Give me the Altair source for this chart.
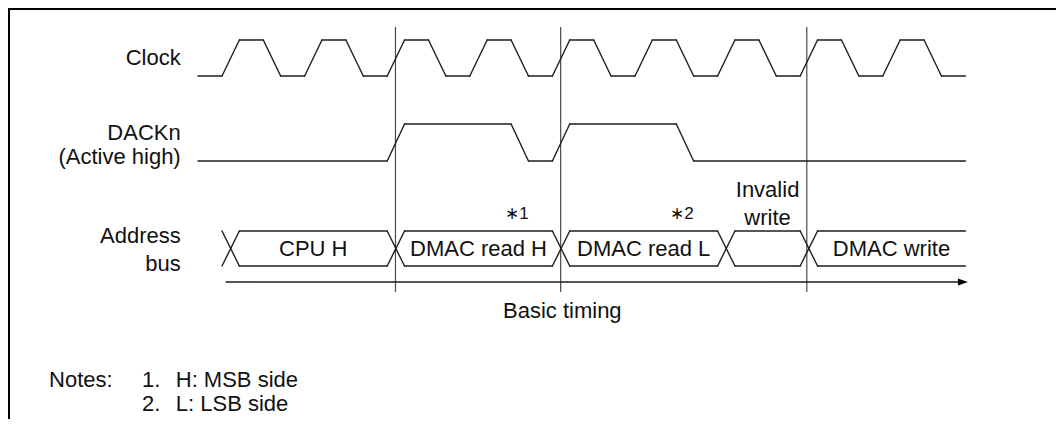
import altair as alt
import pandas as pd

# ---------------- data (times in clock periods) ----------------
clock_rise = [0, 1, 2, 3, 4, 5, 6, 7, 8]
clock_fall = [0.5, 1.5, 2.5, 3.5, 4.5, 5.5, 6.5, 7.5, 8.5]
dack_rise = [2, 4]
dack_fall = [3.5, 5.5]
bus_changes = [0, 2, 4, 6, 7]
bus_labels = ["CPU H", "DMAC read H", "DMAC read L", "", "DMAC write"]
bus_marks = ["", "∗1", "∗2", "", ""]
invalid_label = ["Invalid", "write"]
markers = [2.1, 4.1, 7.08]
signal_labels = [["Clock"], ["DACKn", "(Active high)"], ["Address", "bus"]]
caption = "Basic timing"
notes_head = "Notes:"
notes_num = ["1.", "2."]
notes_text = ["H: MSB side", "L: LSB side"]
t_start, t_end = -0.29, 9.0
EDGE = 0.21

# ---------------- layout ----------------
W, H = 1048, 411
X_DOMAIN = [-2.591, 10.097]
CLK = (32, 68)        # high, low
DACK = (116, 153)     # high, low
BUS = (223, 258)      # top, bottom
ARROW_Y = 274
MARK_Y = (19, 284)
FONT = "Liberation Sans"
FS = 22

def wave(rises, falls, hi, lo):
    events = sorted([(t, 1) for t in rises] + [(t, 0) for t in falls])
    lvl = {1: hi, 0: lo}
    pts = [(t_start, lo)]
    cur = 0
    for t, new in events:
        pts.append((t, lvl[cur]))
        pts.append((t + EDGE, lvl[new]))
        cur = new
    pts.append((t_end, lvl[cur]))
    return [dict(x=a[0], y=a[1], x2=b[0], y2=b[1]) for a, b in zip(pts[:-1], pts[1:])]

segs = []
segs += wave(clock_rise, clock_fall, *CLK)
segs += wave(dack_rise, dack_fall, *DACK)
top, bot = BUS
ends = bus_changes[1:] + [t_end]
for tc, te in zip(bus_changes, ends):
    segs.append(dict(x=tc, y=top, x2=tc + EDGE, y2=bot))
    segs.append(dict(x=tc, y=bot, x2=tc + EDGE, y2=top))
    segs.append(dict(x=tc + EDGE, y=top, x2=te, y2=top))
    segs.append(dict(x=tc + EDGE, y=bot, x2=te, y2=bot))
# time arrow
segs.append(dict(x=0.05, y=ARROW_Y, x2=8.95, y2=ARROW_Y))
seg_df = pd.DataFrame(segs)

mark_df = pd.DataFrame([dict(x=m, y=MARK_Y[0], x2=m, y2=MARK_Y[1]) for m in markers])

# texts
right_rows = []
label_base = [[57], [132, 156], [235, 263]]
for lines, ys in zip(signal_labels, label_base):
    for s, yy in zip(lines, ys):
        right_rows.append(dict(x=-0.5, y=yy, text=s))

center_rows = []
small_rows = []
for tc, te, lab, mk in zip(bus_changes, ends, bus_labels, bus_marks):
    if lab:
        center_rows.append(dict(x=(tc + EDGE + te) / 2, y=248, text=lab))
    if mk:
        small_rows.append(dict(x=te - 0.43, y=211, text=mk))
mid_inv = (bus_changes[3] + EDGE + bus_changes[4]) / 2
for s, yy in zip(invalid_label, [189, 217]):
    center_rows.append(dict(x=mid_inv, y=yy, text=s))
center_rows.append(dict(x=4.12, y=310, text=caption))

left_rows = [dict(x=-2.094, y=379, text=notes_head)]
for i, (n, s) in enumerate(zip(notes_num, notes_text)):
    yy = 379 + 24 * i
    left_rows.append(dict(x=-0.969, y=yy, text=n))
    left_rows.append(dict(x=-0.56, y=yy, text=s))

xs = alt.Scale(domain=X_DOMAIN, range=[0, W])
ys = alt.Scale(domain=[0, H], range=[0, H])
X = lambda f="x": alt.X(f"{f}:Q", scale=xs, axis=None)
Y = lambda f="y": alt.Y(f"{f}:Q", scale=ys, axis=None)

wave_layer = alt.Chart(seg_df).mark_rule(color="#1e1e1e", strokeWidth=1.4, strokeCap="round").encode(
    x=X(), y=Y(), x2="x2:Q", y2="y2:Q")
mark_layer = alt.Chart(mark_df).mark_rule(color="#4a4a4a", strokeWidth=1.2).encode(
    x=X(), y=Y(), x2="x2:Q", y2="y2:Q")
arrow_layer = alt.Chart(pd.DataFrame([dict(x=8.97, y=ARROW_Y)])).mark_point(
    shape="M -1 -0.7 L 1 0 L -1 0.7 Z", size=100, filled=True, color="#000", opacity=1).encode(x=X(), y=Y())

def text_layer(rows, align, size=FS):
    return alt.Chart(pd.DataFrame(rows)).mark_text(
        align=align, baseline="alphabetic", font=FONT, fontSize=size, color="#111").encode(
        x=X(), y=Y(), text="text:N")

frame_top = alt.Chart(pd.DataFrame([{"a": 0}])).mark_rule(color="#000", strokeWidth=2).encode(
    x=alt.value(0), x2=alt.value(W), y=alt.value(1))
frame_left = alt.Chart(pd.DataFrame([{"a": 0}])).mark_rule(color="#000", strokeWidth=2).encode(
    x=alt.value(1), y=alt.value(0), y2=alt.value(H))

chart = alt.layer(
    frame_top, frame_left, mark_layer, wave_layer, arrow_layer,
    text_layer(right_rows, "right"), text_layer(center_rows, "center"), text_layer(left_rows, "left"),
    text_layer(small_rows, "center", 17),
).properties(
    width=W, height=H, padding=0, autosize=alt.AutoSizeParams(type="none"), background="white"
).configure_view(stroke=None)

chart.save("out.html", embed_options={"renderer": "svg", "actions": False})
